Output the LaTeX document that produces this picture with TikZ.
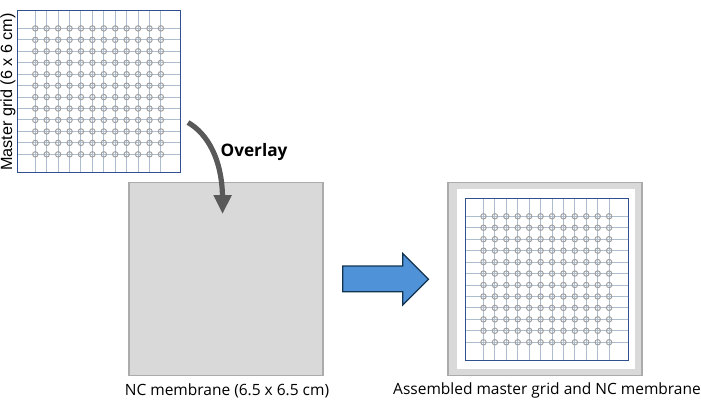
\documentclass[tikz,border=0pt]{standalone}
\usepackage{fontspec}
\setmainfont{Open Sans}
\newfontfamily\gridfont{Liberation Sans}
\usetikzlibrary{arrows.meta}
\definecolor{framec}{HTML}{2F4F8F}
\definecolor{linec}{HTML}{AEBCD0}
\definecolor{holec}{HTML}{A0A0A0}
\definecolor{memb}{HTML}{D9D9D9}
\definecolor{membb}{HTML}{ABABAB}
\definecolor{arrowg}{HTML}{595959}
\definecolor{blockb}{HTML}{4F92D8}
\definecolor{blockl}{HTML}{12334F}
\tikzset{
  gridframe/.style={draw=framec,line width=1pt},
  gridline/.style={draw=linec,line width=1pt},
  gridhole/.style={draw=holec,line width=1pt},
  membrane/.style={draw=membb,fill=memb,line width=1.5pt},
  innerwhite/.style={fill=white},
  labeltext/.style={font=\fontsize{15.5pt}{18pt}\selectfont,text=black,inner sep=0pt},
}
\newcommand{\mastergrid}[2]{%
  \begin{scope}[shift={(#1,#2)}]
    \foreach \i in {0,...,11}{
      \draw[gridline] (18+\i*11.42,0) -- (18+\i*11.42,162.5);
      \draw[gridline] (0,18+\i*11.45) -- (163,18+\i*11.45);
    }
    \foreach \i in {0,...,11}\foreach \j in {0,...,11}{
      \draw[gridhole] (18+\i*11.42,18+\j*11.45) circle[radius=2.7];
    }
    \draw[gridframe] (0,0) rectangle (163,162.5);
  \end{scope}}
\begin{document}
\begin{tikzpicture}[x=1pt,y=-1pt]
  \useasboundingbox (0,0) rectangle (701,409);
  \mastergrid{17.3}{10.4}
  \node[labeltext,rotate=90,font=\gridfont\fontsize{16.2pt}{19pt}\selectfont] (lgrid) at (8,92) {Master grid (6 x 6 cm)};

  \node[membrane,minimum width=194pt,minimum height=193pt,inner sep=0pt] (nc) at (226,279.2) {};
  \node[labeltext] (lnc) at (227,390.5) {NC membrane (6.5 x 6.5 cm)};

  \node[membrane,minimum width=194pt,minimum height=193pt,inner sep=0pt] (asm) at (544.8,279.2) {};
  \fill[innerwhite] (456.7,189.3) rectangle (635,369);
  \mastergrid{465.5}{198.3}
  \node[labeltext] (lasm) at (547,390.5) {Assembled master grid and NC membrane};

  \coordinate (ovs) at (188,122.5);
  \coordinate (ove) at (222.5,197);
  \draw[arrowg,line width=5.2pt] (ovs) .. controls (208,134) and (222,160) .. (ove);
  \fill[arrowg] (213.3,195) -- (232,195) -- (222.5,213.5) -- cycle;
  \node[labeltext,font=\fontsize{17.2pt}{20pt}\selectfont\bfseries] (lov) at (254,152.3) {Overlay};

  \draw[draw=blockl,fill=blockb,line width=1.2pt,line join=miter]
    (342.8,266) -- (402.8,266) -- (402.8,253.5) -- (428.5,279.3) -- (402.8,305) -- (402.8,291.7) -- (342.8,291.7) -- cycle;
\end{tikzpicture}
\end{document}
